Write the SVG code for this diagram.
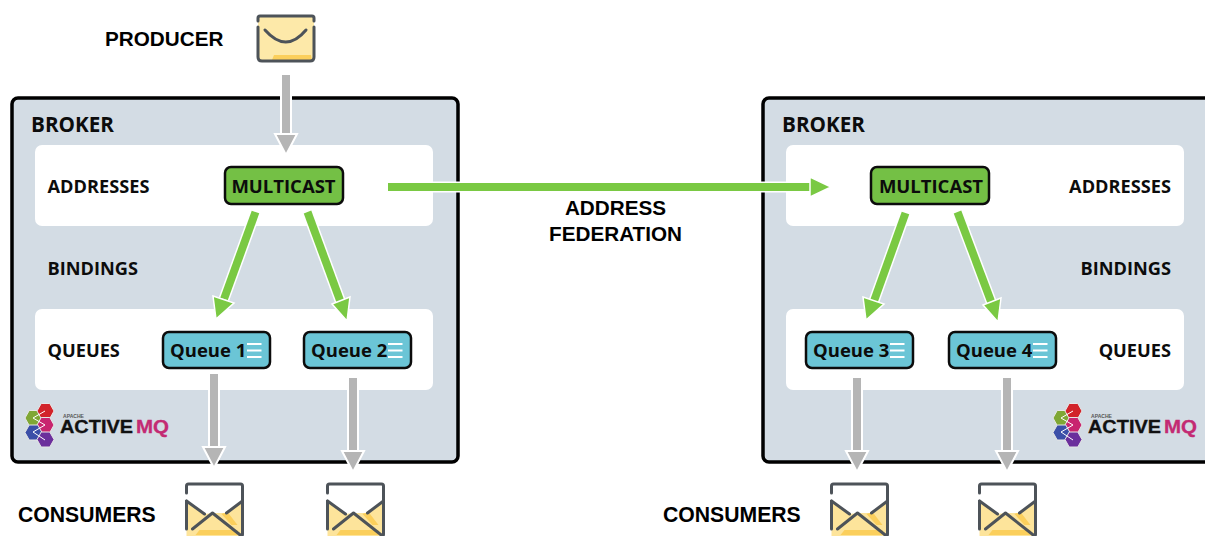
<svg xmlns="http://www.w3.org/2000/svg" width="1205" height="536" viewBox="0 0 1205 536">
<style>
.broker{fill:#d3dce4;stroke:#000;stroke-width:3.5}
.panel{fill:#fff}
.lbl{font-family:"Liberation Sans",Arial,sans-serif;font-weight:700;font-size:20.700px;fill:#000}
.con{font-size:21.200px}
.bk{font-family:"Open Sans","Liberation Sans",sans-serif;font-weight:700;font-size:20.700px;fill:#0c0c0c}
.sec{font-family:"Open Sans","Liberation Sans",sans-serif;font-weight:700;font-size:18.200px;fill:#0c0c0c}
.in{font-family:"Open Sans","Liberation Sans",sans-serif;font-weight:700;font-size:18.500px;fill:#0c0c0c}
.mc{fill:#74c045;stroke:#0c0c0c;stroke-width:2.500}
.q{fill:#6bc5d6;stroke:#0c0c0c;stroke-width:2.500}
.bar{stroke:#fff;stroke-width:2.200}
.gs{stroke:#b5b5b5;stroke-width:8;fill:none}
.gh{fill:#b5b5b5;stroke:#fff;stroke-width:2}
.gl{stroke:#7ac943;stroke-width:8;fill:none}
.glw{stroke:#fff;stroke-width:11;fill:none}
.glh{fill:#7ac943;stroke:#fff;stroke-width:1.500}
.ev{fill:none;stroke:#4d5359;stroke-width:3;stroke-linecap:round;stroke-linejoin:round}
.amq{font-family:"Liberation Sans",Arial,sans-serif;font-weight:700}
.hex{stroke:#e6e6e6;stroke-width:1}
</style>
<defs>
<g id="qb"><path class="bar" d="M0 0H14.500M0 6.500H14.500M0 13H14.500"/></g>
<polygon id="hx" points="-8.500,0 -4.300,-7.500 4.300,-7.500 8.500,0 4.300,7.500 -4.300,7.500"/>
<g id="open">
<path d="M1 18 L19 31 L27 30 L41 30 L57 18 V54 H1Z" fill="#fde49b"/>
<path d="M36 31 L42 29 L52 42 H46Z" fill="#fbcf5c"/>
<path d="M14 47 H52 V52 H10Z" fill="#fbcf5c"/>
<path d="M1 10 V3 Q1 1 3 1 H55 Q57 1 57 3 V51 Q57 54 54 54 M1 18 V46" class="ev"/>
<path d="M1 18 L19 31 M57 18 L41 30 M7 46 L27 30 L56 53" class="ev"/>
</g>
<g id="logo">
<use href="#hx" class="hex" x="9.500" y="13" fill="#7fa735"/>
<use href="#hx" class="hex" x="21.500" y="6" fill="#d2232a"/>
<use href="#hx" class="hex" x="21.500" y="20" fill="#c8256f"/>
<use href="#hx" class="hex" x="9.500" y="27.500" fill="#3b4fa8"/>
<use href="#hx" class="hex" x="21.500" y="34.500" fill="#6b2f9c"/>
<path d="M9 13 L21 6 M9 13 L21 20 M9 27 L21 20 M9 27 L21 35" stroke="#fff" stroke-width="1" fill="none"/>
<text class="amq" x="39" y="12.500" font-size="4.500" fill="#555" textLength="21" lengthAdjust="spacingAndGlyphs">APACHE</text>
<text class="amq" x="36" y="28" font-size="18" fill="#111" stroke="#111" stroke-width=".3" textLength="73" lengthAdjust="spacingAndGlyphs">ACTIVE</text>
<text class="amq" x="112" y="28" font-size="18" fill="#c32a73" stroke="#c32a73" stroke-width=".3" textLength="33" lengthAdjust="spacingAndGlyphs">MQ</text>
</g>
</defs>
<rect width="1205" height="536" fill="#fff"/>

<g id="broker-left">
<rect class="broker" x="12" y="98" width="446" height="364" rx="6"/>
<text class="bk" x="31" y="132">BROKER</text>
<rect class="panel" x="35" y="145" width="398" height="81" rx="7"/>
<rect class="panel" x="35" y="309" width="398" height="81" rx="7"/>
<text class="sec" x="47.500" y="193">ADDRESSES</text>
<text class="sec" x="47.500" y="275">BINDINGS</text>
<text class="sec" x="47.500" y="357">QUEUES</text>
<use href="#logo" x="24" y="405"/>
</g>
<g id="broker-right">
<rect class="broker" x="763" y="98" width="460" height="364" rx="6"/>
<text class="bk" x="782" y="132">BROKER</text>
<rect class="panel" x="786" y="145" width="398" height="81" rx="7"/>
<rect class="panel" x="786" y="309" width="398" height="81" rx="7"/>
<text class="sec" x="1171" y="193" text-anchor="end">ADDRESSES</text>
<text class="sec" x="1171" y="275" text-anchor="end">BINDINGS</text>
<text class="sec" x="1171" y="357" text-anchor="end">QUEUES</text>
<use href="#logo" x="1052" y="405"/>
</g>

<g id="producer">
<text class="lbl" x="105" y="46">PRODUCER</text>
<rect x="258" y="16" width="56" height="45" rx="4" fill="#fde9a9"/>
<path d="M272 60 L274 55 H311 L312 60Z" fill="#fbcf5c"/>
<path d="M258 21 V18 Q258 16 260 16 H312 Q314 16 314 18 V21 M258 27 V57 Q258 61 262 61 H310 Q314 61 314 57 V27 M265 30 Q286 54 306 30" class="ev"/>
</g>

<g id="multicast-left"><rect class="mc" x="225" y="167" width="118" height="37" rx="6"/><text class="in" x="283.500" y="193" text-anchor="middle">MULTICAST</text></g>
<g id="multicast-right"><rect class="mc" x="871" y="167" width="118" height="37" rx="6"/><text class="in" x="931" y="193" text-anchor="middle">MULTICAST</text></g>

<g id="queue-1"><rect class="q" x="163" y="332" width="107" height="36" rx="6"/><text class="in" x="170" y="357">Queue 1</text><use href="#qb" x="247" y="344"/></g>
<g id="queue-2"><rect class="q" x="304" y="332" width="107" height="36" rx="6"/><text class="in" x="311" y="357">Queue 2</text><use href="#qb" x="388" y="344"/></g>
<g id="queue-3"><rect class="q" x="806" y="332" width="107" height="36" rx="6"/><text class="in" x="813" y="357">Queue 3</text><use href="#qb" x="890" y="344"/></g>
<g id="queue-4"><rect class="q" x="949" y="332" width="107" height="36" rx="6"/><text class="in" x="956" y="357">Queue 4</text><use href="#qb" x="1033" y="344"/></g>

<g id="consumers-left">
<text class="lbl con" x="18" y="522">CONSUMERS</text>
<use href="#open" x="185.500" y="483"/>
<use href="#open" x="326.500" y="483"/>
</g>
<g id="consumers-right">
<text class="lbl con" x="663" y="522">CONSUMERS</text>
<use href="#open" x="830.500" y="483"/>
<use href="#open" x="978.500" y="483"/>
</g>

<g id="federation-label">
<text class="lbl" x="615.500" y="215" text-anchor="middle">ADDRESS</text>
<text class="lbl" x="615.500" y="241" text-anchor="middle">FEDERATION</text>
</g>

<g id="connectors">
<path d="M286 75V136" stroke="#fff" stroke-width="12"/>
<path class="gs" d="M286 75V136"/><polygon class="gh" points="275,134 297,134 286,155"/>
<path d="M214 374V449M353 378V453M857 378V453M1007 378V453" stroke="#fff" stroke-width="12"/>
<path class="gs" d="M214 374V449"/><polygon class="gh" points="203,447 225,447 214,468"/>
<path class="gs" d="M353 378V453"/><polygon class="gh" points="342,451 364,451 353,472"/>
<path class="gs" d="M857 378V453"/><polygon class="gh" points="846,451 868,451 857,472"/>
<path class="gs" d="M1007 378V453"/><polygon class="gh" points="996,451 1018,451 1007,472"/>

<path class="glw" d="M388 187H813"/><path class="gl" d="M388 187H813"/><polygon class="glh" points="810,177 831,187 810,197"/>
<path class="glw" d="M255.500 212L224 299"/><path class="gl" d="M255.500 212L224 299"/><polygon class="glh" points="213,296 234,303 216,319"/>
<path class="glw" d="M307.500 212L341 303"/><path class="gl" d="M307.500 212L341 303"/><polygon class="glh" points="332,304 350,297 347,321"/>
<path class="glw" d="M905.500 213L874 301"/><path class="gl" d="M905.500 213L874 301"/><polygon class="glh" points="863,297 884,304 866,320"/>
<path class="glw" d="M957.500 212L992 304"/><path class="gl" d="M957.500 212L992 304"/><polygon class="glh" points="983,305 1001,298 998,322"/>
</g>
</svg>
